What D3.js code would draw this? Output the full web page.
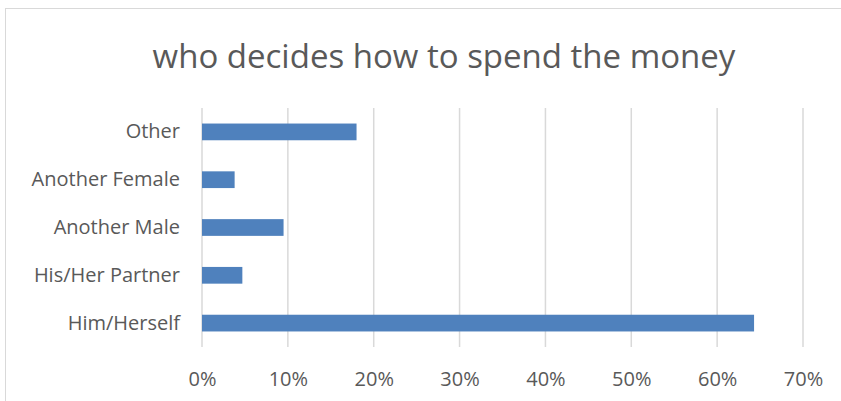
<!DOCTYPE html>
<html>
<head>
<meta charset="utf-8">
<script src="https://cdn.jsdelivr.net/npm/d3@7"></script>
<style>
  body { margin: 0; background: #fff; }
  svg { font-family: "Open Sans", "Noto Sans", sans-serif; }
</style>
</head>
<body>
<div id="chart"></div>
<script>
const title = 'who decides how to spend the money';
const categories = ['Other', 'Another Female', 'Another Male', 'His/Her Partner', 'Him/Herself'];
const values = [0.18, 0.038, 0.095, 0.047, 0.643];
const ticks = [0, 0.1, 0.2, 0.3, 0.4, 0.5, 0.6, 0.7];

const width = 841, height = 401;
const margin = {top: 108, right: 38, bottom: 54, left: 202};

const svg = d3.select('#chart').append('svg')
  .attr('width', width)
  .attr('height', height);

// chart frame
svg.append('rect')
  .attr('x', 5.5)
  .attr('y', 8.5)
  .attr('width', width)
  .attr('height', height)
  .attr('fill', '#fff')
  .attr('stroke', '#d9d9d9');

svg.append('text')
  .attr('x', 444)
  .attr('y', 68)
  .attr('text-anchor', 'middle')
  .attr('fill', '#595959')
  .style('font-size', '33px')
  .text(title);

const x = d3.scaleLinear()
  .domain([0, 0.7])
  .range([margin.left, width - margin.right]);

const y = d3.scaleBand()
  .domain(categories)
  .range([margin.top, height - margin.bottom])
  .paddingInner(0.65)
  .paddingOuter(0.325);

// gridlines
svg.append('g')
  .selectAll('line')
  .data(ticks)
  .join('line')
    .attr('x1', d => x(d))
    .attr('x2', d => x(d))
    .attr('y1', margin.top)
    .attr('y2', height - margin.bottom)
    .attr('stroke', '#d9d9d9')
    .attr('stroke-width', 1.5);

svg.append('g')
  .selectAll('rect')
  .data(values)
  .join('rect')
    .attr('x', x(0))
    .attr('y', (d, i) => y(categories[i]))
    .attr('width', d => x(d) - x(0))
    .attr('height', y.bandwidth())
    .attr('fill', '#4f81bd');

const xAxis = svg.append('g')
  .attr('transform', `translate(0,${height - margin.bottom})`)
  .call(d3.axisBottom(x).tickValues(ticks).tickFormat(d3.format('.0%')).tickSize(0).tickPadding(25));
xAxis.select('.domain').remove();
xAxis.selectAll('text')
  .attr('fill', '#595959')
  .style('font-size', '20px')
  .style('font-family', '"Open Sans", sans-serif');

const yAxis = svg.append('g')
  .attr('transform', `translate(${margin.left},0)`)
  .call(d3.axisLeft(y).tickSize(0).tickPadding(22));
yAxis.select('.domain').remove();
yAxis.selectAll('text')
  .attr('fill', '#595959')
  .style('font-size', '20px')
  .style('font-family', '"Open Sans", sans-serif');
</script>
</body>
</html>
